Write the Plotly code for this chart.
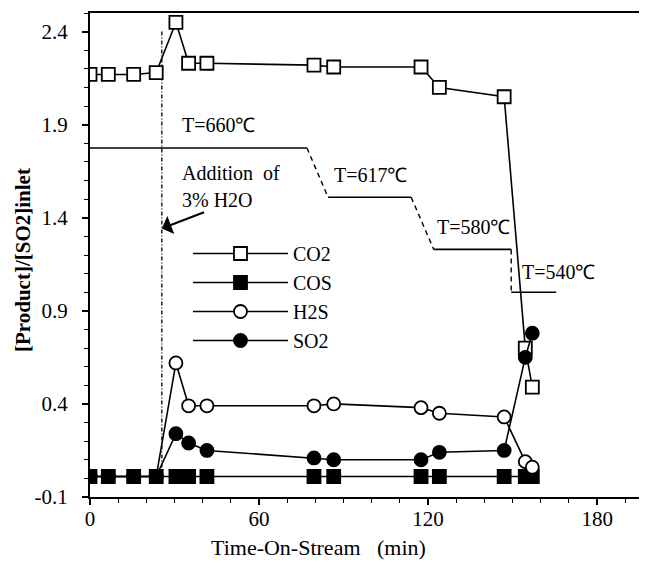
import plotly.graph_objects as go

# ---- data ----
time_min = [0, 6.5, 15.5, 23.5, 30.5, 35, 41.5, 79.5, 86.5, 117.5, 124, 147, 154.5, 157]
co2 = [2.17, 2.17, 2.17, 2.18, 2.45, 2.23, 2.23, 2.22, 2.21, 2.21, 2.10, 2.05, 0.70, 0.49]
cos_ = [0.01] * 14
h2s = [0.01, 0.01, 0.01, 0.01, 0.62, 0.39, 0.39, 0.39, 0.40, 0.38, 0.35, 0.33, 0.09, 0.06]
so2 = [0.01, 0.01, 0.01, 0.01, 0.24, 0.19, 0.15, 0.11, 0.10, 0.10, 0.14, 0.15, 0.65, 0.78]

# temperature programme (drawn as a step line in the plot)
temp_labels = ["T=660℃", "T=617℃", "T=580℃", "T=540℃"]
temp_level = [1.775, 1.51, 1.23, 1.0]
temp_start = [0, 84.5, 122, 149.5]
temp_end = [77, 114, 149.5, 165.5]
temp_label_x = [31.9, 85.8, 122.5, 152.6]
temp_label_y = [1.90, 1.63, 1.352, 1.11]

water_time = 25.5
water_top, water_bottom = 2.4, 0.05

x_ticks = [0, 60, 120, 180]
y_ticks = [-0.1, 0.4, 0.9, 1.4, 1.9, 2.4]

FONT = "Liberation Serif, Times New Roman, serif"

# page geometry (the page body has an 8px margin)
PL, PR, PT, PB = 90, 647, 13, 497
PW, PH = PR - PL, PB - PT


def px(xp):
    return (xp - PL) / PW


def py(yp):
    return (PB - yp) / PH


fig = go.Figure()

# temperature step line
for i in range(len(temp_level)):
    fig.add_trace(go.Scatter(x=[temp_start[i], temp_end[i]], y=[temp_level[i], temp_level[i]],
                             mode="lines", line=dict(color="black", width=1.6),
                             showlegend=False, hoverinfo="skip"))
    if i + 1 < len(temp_level):
        fig.add_trace(go.Scatter(x=[temp_end[i], temp_start[i + 1]], y=[temp_level[i], temp_level[i + 1]],
                                 mode="lines", line=dict(color="black", width=1.4, dash="5px,4px"),
                                 showlegend=False, hoverinfo="skip"))

# water addition marker line
fig.add_trace(go.Scatter(x=[water_time, water_time], y=[water_top, water_bottom], mode="lines",
                         line=dict(color="black", width=1.3, dash="4px,2px,1px,2px"),
                         showlegend=False, hoverinfo="skip"))

series = [
    ("CO2", co2, "square", "white", 13),
    ("COS", cos_, "square", "black", 13),
    ("H2S", h2s, "circle", "white", 13),
    ("SO2", so2, "circle", "black", 13),
]
for name, vals, sym, fill, size in series:
    fig.add_trace(go.Scatter(
        x=time_min, y=vals, name=name, mode="lines+markers",
        line=dict(color="black", width=1.6),
        marker=dict(symbol=sym, size=size, color=fill, line=dict(color="black", width=1.8)),
    ))

for lab, lx, ly in zip(temp_labels, temp_label_x, temp_label_y):
    fig.add_annotation(x=lx, y=ly, text=lab, showarrow=False, xanchor="left", yanchor="middle",
                       font=dict(family=FONT, size=20, color="black"))

fig.add_annotation(x=31.9, y=1.64, text="Addition\u00a0\u00a0of", showarrow=False, xanchor="left",
                   yanchor="middle", font=dict(family=FONT, size=20, color="black"))
fig.add_annotation(x=31.9, y=1.496, text="3% H2O", showarrow=False, xanchor="left",
                   yanchor="middle", font=dict(family=FONT, size=20, color="black"))
fig.add_annotation(x=water_time, y=1.343, ax=41, ay=1.433, axref="x", ayref="y", xref="x", yref="y",
                   text="", showarrow=True, arrowhead=1, arrowsize=1.6, arrowwidth=2, arrowcolor="black")

# axis titles as annotations
fig.add_annotation(xref="paper", yref="paper", x=px(318), y=py(547),
                   text="Time-On-Stream\u00a0\u00a0\u00a0(min)", showarrow=False,
                   font=dict(family=FONT, size=22, color="black"), xanchor="center", yanchor="middle")
fig.add_annotation(xref="paper", yref="paper", x=px(23), y=py(260),
                   text="<b>[Product]/[SO2]inlet</b>", showarrow=False, textangle=-90,
                   font=dict(family=FONT, size=21, color="black"), xanchor="center", yanchor="middle",
                   borderpad=0)

fig.update_layout(
    width=639, height=564,
    margin=dict(l=PL - 8, r=0, t=PT - 8, b=(8 + 564) - PB, autoexpand=False),
    paper_bgcolor="white", plot_bgcolor="white",
    font=dict(family=FONT, size=20, color="black"),
    showlegend=True,
    legend=dict(x=px(188), y=py(234), xanchor="left", yanchor="top",
                bgcolor="rgba(0,0,0,0)", font=dict(family=FONT, size=20, color="black"),
                itemwidth=95, tracegroupgap=0),
)
fig.update_xaxes(range=[0, 197.7], tickvals=x_ticks, ticktext=[str(v) for v in x_ticks],
                 automargin=False,
                 showgrid=False, zeroline=False, showline=True, linecolor="black", linewidth=2,
                 mirror=True, ticks="outside", ticklen=6, tickwidth=1.5, tickcolor="black",
                 minor=dict(dtick=10, tick0=0, ticks="outside", ticklen=4, tickwidth=1.3, tickcolor="black"),
                 tickfont=dict(family=FONT, size=21), ticklabelstandoff=-4)
fig.update_yaxes(range=[-0.1, 2.5], tickvals=y_ticks, ticktext=[f"{v:.1f}" for v in y_ticks],
                 automargin=False,
                 showgrid=False, zeroline=False, showline=True, linecolor="black", linewidth=2,
                 ticks="outside", ticklen=6, tickwidth=1.5, tickcolor="black",
                 minor=dict(dtick=0.1, tick0=-0.1, ticks="outside", ticklen=4, tickwidth=1.3, tickcolor="black"),
                 tickfont=dict(family=FONT, size=21), ticklabelstandoff=10)

fig.write_html("out.html")
